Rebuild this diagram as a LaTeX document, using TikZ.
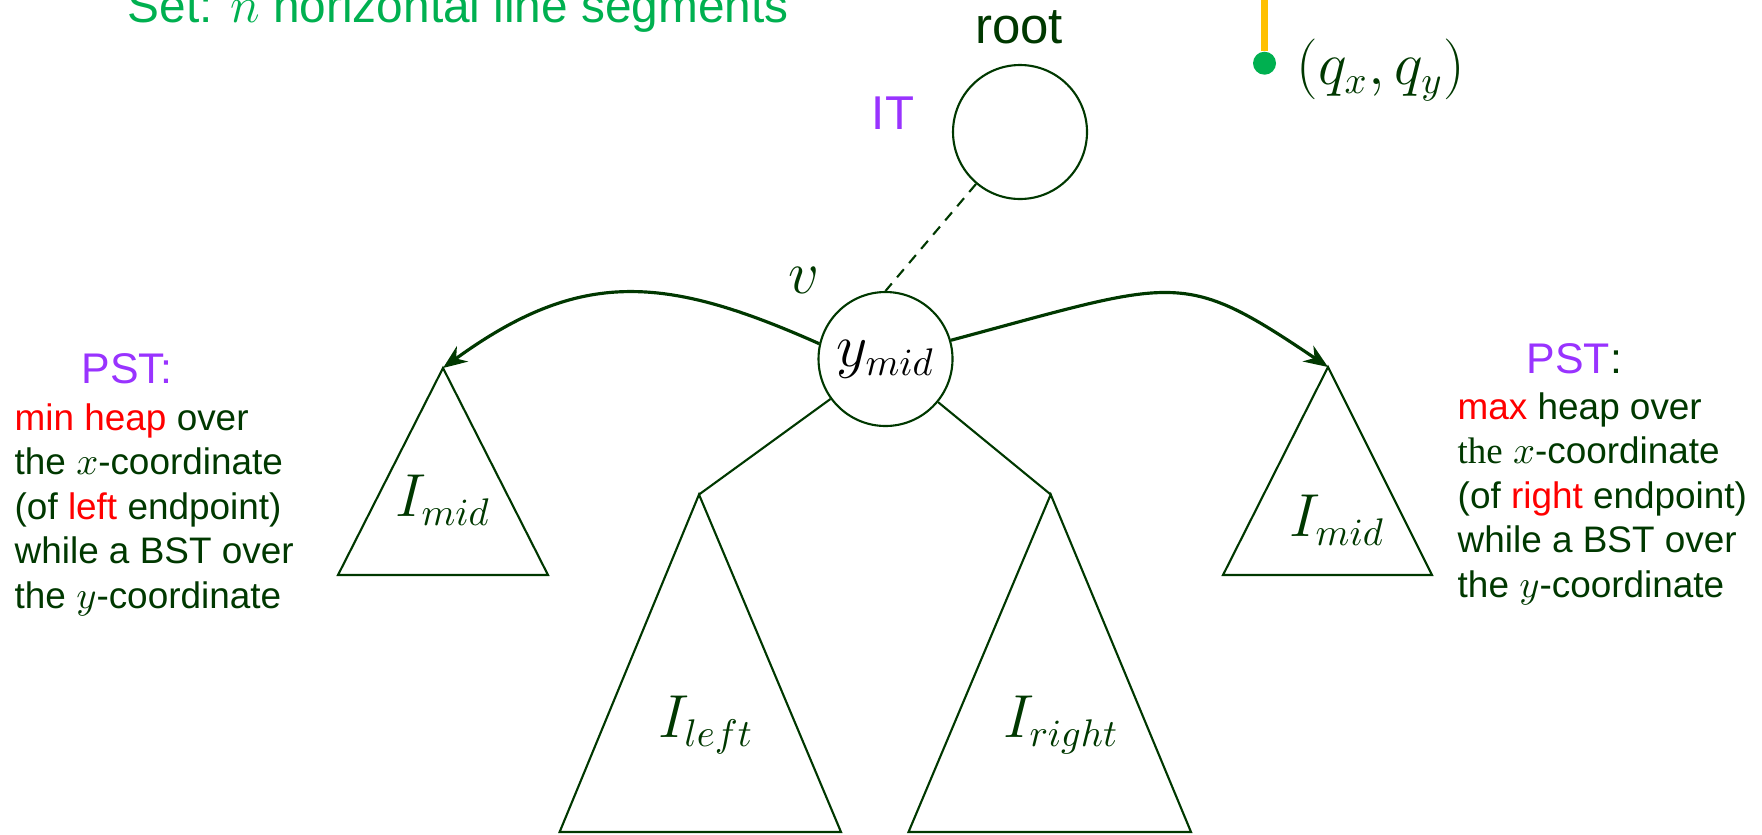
\documentclass[tikz,border=0pt]{standalone}
\usepackage{fontspec}
\setmainfont{Liberation Sans}
\newfontfamily\serifthe{Liberation Serif}
\usetikzlibrary{arrows.meta}
\definecolor{dkgreen}{RGB}{0,56,0}
\definecolor{purp}{RGB}{153,51,255}
\definecolor{brgreen}{RGB}{0,176,80}
\definecolor{gold}{RGB}{255,192,0}
\newcommand{\mth}[1]{{\fontsize{16}{19}\selectfont$#1$}}

\begin{document}
\begin{tikzpicture}[
	every node/.style={inner sep=0pt},
	knot/.style={draw=dkgreen,line width=0.6pt,circle,minimum size=1.34cm},
	tri/.style={draw=dkgreen,line width=0.6pt},
	txt/.style={anchor=base west,text=dkgreen,font=\fontsize{10.5}{12}\selectfont},
	curvy/.style={draw=dkgreen,line width=0.9pt,-{Stealth[length=0.24cm,width=0.19cm]}}
	]
		\clip (0,0) rectangle (17.62,-8.34);
		\node[anchor=base west,text=brgreen,font=\fontsize{13.6}{16}\selectfont] (title) at (1.27,-0.22) {Set: $n$ horizontal line segments};
		% query point
		\coordinate (qtop) at (12.645,0.2);
		\node[circle,fill=brgreen,minimum size=0.23cm] (q) at (12.645,-0.632) {};
		\draw[gold,line width=0.07cm] (qtop) -- (q);
		\node[anchor=base west,text=dkgreen] (qlab) at (12.96,-0.84) {\mth{(q_x,q_y)}};
		% interval tree
		\node[knot] (root) at (10.20,-1.32) {};
		\node[anchor=base,text=dkgreen,font=\fontsize{14.5}{17}\selectfont] (rootlab) at (10.19,-0.43) {root};
		\node[anchor=base,text=purp,font=\fontsize{13.5}{16}\selectfont] (it) at (8.93,-1.29) {IT};
		\node[knot] (ymid) at (8.855,-3.59) {\mth{y_{mid}}};
		\node[text=dkgreen] (v) at (8.04,-2.80) {\mth{v}};
		\draw[dkgreen,line width=0.6pt,dash pattern=on 3pt off 2.3pt] (root) -- (ymid.north);
		% subtrees
		\coordinate (lapex) at (4.43,-3.68);
		\coordinate (rapex) at (13.28,-3.67);
		\coordinate (lleft) at (6.99,-4.945);
		\coordinate (rright) at (10.507,-4.945);
		\draw[tri] (lapex) -- (3.38,-5.75) -- (5.48,-5.75) -- cycle;
		\draw[tri] (rapex) -- (12.23,-5.75) -- (14.32,-5.75) -- cycle;
		\draw[tri] (lleft) -- (5.596,-8.32) -- (8.41,-8.32) -- cycle;
		\draw[tri] (rright) -- (9.085,-8.32) -- (11.91,-8.32) -- cycle;
		\node[text=dkgreen] (imidl) at (4.43,-5.00) {\mth{I_{mid}}};
		\node[text=dkgreen] (imidr) at (13.37,-5.20) {\mth{I_{mid}}};
		\node[text=dkgreen] (ileft) at (7.06,-7.25) {\mth{I_{left}}};
		\node[text=dkgreen] (iright) at (10.61,-7.25) {\mth{I_{right}}};
		\draw[tri] (ymid) -- (lleft);
		\draw[tri] (ymid) -- (rright);
		\draw[curvy] (ymid.167) to[out=156,in=36,looseness=1.15] (lapex);
		\draw[curvy] (ymid.16) to[out=15,in=146,out looseness=1.6,in looseness=1.2] (rapex);
		% left PST
		\node[anchor=base west,text=purp,font=\fontsize{12.2}{14}\selectfont] (pstl) at (0.81,-3.83) {PST:};
		\node[txt] (l1) at (0.14,-4.30) {\textcolor{red}{min heap} over};
		\node[txt] (l2) at (0.14,-4.745) {the $x$-coordinate};
		\node[txt] (l3) at (0.14,-5.19) {(of \textcolor{red}{left} endpoint)};
		\node[txt] (l4) at (0.14,-5.635) {while a BST over};
		\node[txt] (l5) at (0.14,-6.08) {the $y$-coordinate};
		% right PST
		\node[anchor=base west,font=\fontsize{12.2}{14}\selectfont] (pstr) at (15.26,-3.73) {\textcolor{purp}{PST}\textcolor{dkgreen}{:}};
		\node[txt] (r1) at (14.57,-4.19) {\textcolor{red}{max} heap over};
		\node[txt] (r2) at (14.57,-4.635) {{\serifthe the} $x$-coordinate};
		\node[txt] (r3) at (14.57,-5.08) {(of \textcolor{red}{right} endpoint)};
		\node[txt] (r4) at (14.57,-5.525) {while a BST over};
		\node[txt] (r5) at (14.57,-5.97) {the $y$-coordinate};
\end{tikzpicture}
\end{document}
